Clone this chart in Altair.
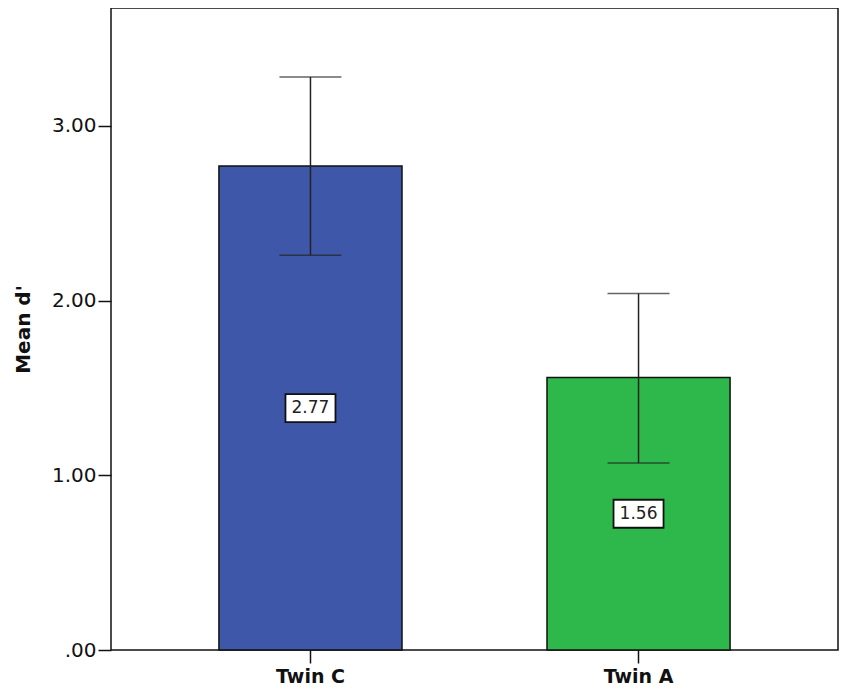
import altair as alt
import pandas as pd

groups = ["Twin C", "Twin A"]
means = [2.77, 1.56]
lower = [2.26, 1.07]
upper = [3.28, 2.04]
labels = ["2.77", "1.56"]
colors = ["#3F57A9", "#2EB84B"]

df = pd.DataFrame({"group": groups, "mean": means, "lower": lower,
                   "upper": upper, "label": labels})

yscale = alt.Scale(domain=[0, 3.675], nice=False, zero=True)
xenc = alt.X("group:N", sort=groups,
             scale=alt.Scale(paddingInner=0.442, paddingOuter=0.329),
             axis=alt.Axis(title=None, labelAngle=0, labelFont="DejaVu Sans",
                           labelFontWeight="bold", labelFontSize=19,
                           labelColor="#111", tickSize=13, tickColor="#111",
                           tickWidth=1.5, domain=False, labelPadding=4))

base = alt.Chart(df).encode(x=xenc)

bars = base.mark_bar(stroke="#111", strokeWidth=1.5).encode(
    y=alt.Y("mean:Q", scale=yscale,
            axis=alt.Axis(title="Mean d'", values=[0, 1, 2, 3],
                          labelExpr="datum.value == 0 ? '.00' : format(datum.value, '.2f')",
                          labelFont="DejaVu Sans", labelFontSize=20,
                          labelColor="#111", tickSize=13, tickColor="#111",
                          tickWidth=1.5, labelPadding=2, grid=False,
                          domain=False, titleFont="DejaVu Sans",
                          titleFontSize=20, titleFontWeight="bold",
                          titleColor="#111", titlePadding=18)),
    color=alt.Color("group:N", scale=alt.Scale(domain=groups, range=colors),
                    legend=None),
)

rules = base.mark_rule(color="#222", strokeWidth=1.5).encode(
    y=alt.Y("lower:Q", scale=yscale), y2="upper:Q")

caps = base.transform_fold(["lower", "upper"], as_=["which", "val"]).mark_tick(
    color="#222", size=62, thickness=1.5).encode(
    y=alt.Y("val:Q", scale=yscale))

boxes = base.transform_calculate(mid="datum.mean / 2").mark_point(
    shape="M-1,-0.56H1V0.56H-1Z", size=2500, filled=True, fill="white",
    stroke="#111", strokeWidth=1.8, opacity=1).encode(
    y=alt.Y("mid:Q", scale=yscale))

texts = base.transform_calculate(mid="datum.mean / 2").mark_text(
    font="DejaVu Sans", fontSize=17, color="#222", baseline="middle").encode(
    y=alt.Y("mid:Q", scale=yscale), text="label:N")

chart = alt.layer(bars, rules, caps, boxes, texts).properties(
    width=727, height=642,
    autosize=alt.AutoSizeParams(type="none"),
    padding={"left": 103, "top": 0, "right": 4, "bottom": 43},
    background="white",
).configure_view(stroke="#111", strokeWidth=1.5)

chart.save("out.html", embed_options={"renderer": "svg", "actions": False})
